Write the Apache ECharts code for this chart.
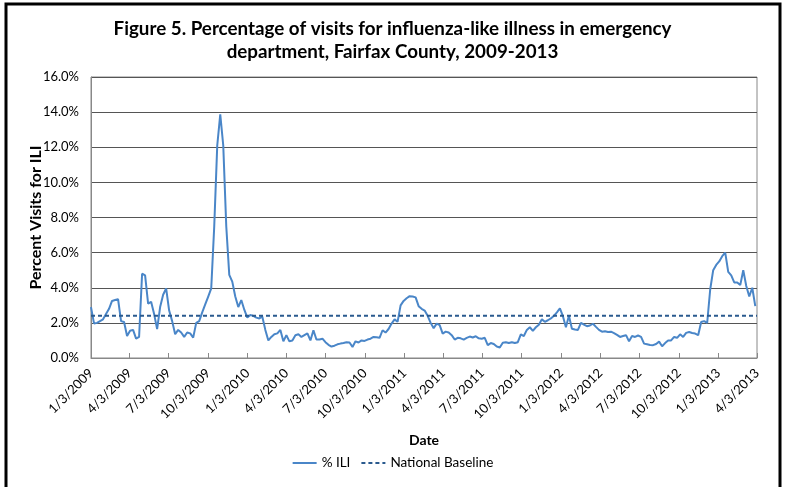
<!DOCTYPE html>
<html>
<head>
<meta charset="utf-8">
<script src="https://cdn.jsdelivr.net/npm/echarts@6/dist/echarts.min.js"></script>
<style>
html, body { margin: 0; padding: 0; background: #fff; }
#container { width: 785px; height: 487px; }
</style>
</head>
<body>
<div id="container"></div>
<script>
// weekly % ILI, weeks ending Saturday, first week ends 1/3/2009
var firstWeek = [2009, 0, 3];
var ili2009 = [2.9, 1.97, 2.0, 2.1, 2.2, 2.5, 2.8, 3.25, 3.3, 3.35, 2.1, 2.05, 1.25,
    1.55, 1.6, 1.1, 1.2, 4.8, 4.7, 3.1, 3.2, 2.5, 1.65, 2.9, 3.6, 3.96,
    2.7, 2.1, 1.35, 1.6, 1.45, 1.2, 1.45, 1.4, 1.16, 2.0, 2.1, 2.6, 3.05,
    3.5, 3.96, 7.5, 12.1, 13.87, 12.1, 7.5, 4.73, 4.35, 3.5, 2.9, 3.3, 2.75];
var ili2010 = [2.3, 2.45, 2.4, 2.3, 2.25, 2.35, 1.6, 1.0, 1.2, 1.35, 1.4, 1.6, 0.95,
    1.3, 0.95, 1.0, 1.3, 1.35, 1.2, 1.3, 1.4, 1.0, 1.58, 1.05, 1.05, 1.1,
    0.9, 0.75, 0.65, 0.7, 0.78, 0.82, 0.85, 0.9, 0.88, 0.63, 0.95, 0.88, 1.0,
    0.97, 1.05, 1.1, 1.2, 1.18, 1.15, 1.58, 1.45, 1.65, 1.96, 2.2, 2.06, 3.0];
var ili2011 = [3.25, 3.4, 3.52, 3.5, 3.45, 2.95, 2.8, 2.7, 2.4, 2.0, 1.7, 1.96, 1.87,
    1.39, 1.5, 1.45, 1.3, 1.05, 1.15, 1.12, 1.05, 1.15, 1.22, 1.17, 1.24, 1.12,
    1.1, 1.15, 0.73, 0.85, 0.8, 0.65, 0.6, 0.87, 0.9, 0.85, 0.9, 0.85, 0.9,
    1.35, 1.25, 1.6, 1.75, 1.55, 1.75, 1.9, 2.2, 2.06, 2.15, 2.25, 2.4, 2.6];
var ili2012 = [2.82, 2.38, 1.75, 2.4, 1.66, 1.62, 1.6, 2.0, 1.9, 1.81, 1.85, 1.95, 1.77,
    1.6, 1.5, 1.52, 1.48, 1.5, 1.42, 1.32, 1.2, 1.25, 1.3, 0.95, 1.25, 1.2,
    1.28, 1.2, 0.82, 0.78, 0.74, 0.73, 0.8, 0.93, 0.67, 0.85, 1.0, 1.0, 1.2,
    1.15, 1.35, 1.2, 1.43, 1.48, 1.42, 1.39, 1.3, 2.05, 2.1, 2.0, 3.9, 5.0];
var ili2013 = [5.3, 5.5, 5.8, 6.0, 4.9, 4.7, 4.3, 4.3, 4.15, 5.0, 4.1, 3.5, 4.0, 2.95];

var baselineValue = 2.4;
var axisStart = '2009-01-03';
var axisEnd = '2013-04-03';
var tickDates = ['2009-01-03', '2009-04-03', '2009-07-03', '2009-10-03',
    '2010-01-03', '2010-04-03', '2010-07-03', '2010-10-03',
    '2011-01-03', '2011-04-03', '2011-07-03', '2011-10-03',
    '2012-01-03', '2012-04-03', '2012-07-03', '2012-10-03',
    '2013-01-03', '2013-04-03'];

function toTime(s) {
    var p = s.split('-');
    return new Date(+p[0], +p[1] - 1, +p[2]).getTime();
}

var iliValues = ili2009.concat(ili2010, ili2011, ili2012, ili2013);
var iliData = [];
for (var i = 0; i < iliValues.length; i++) {
    var d = new Date(firstWeek[0], firstWeek[1], firstWeek[2] + 7 * i);
    iliData.push([d.getTime(), iliValues[i]]);
}
var baselineData = [[toTime(axisStart), baselineValue], [toTime(axisEnd), baselineValue]];
var tickTimes = tickDates.map(toTime);

var font = 'Lato, "Open Sans", sans-serif';
var myChart = echarts.init(document.getElementById('container'));

var option = {
    animation: false,
    title: {
        text: 'Figure 5. Percentage of visits for influenza-like illness in emergency\ndepartment, Fairfax County, 2009-2013',
        left: 'center',
        top: 12,
        textStyle: { fontFamily: font, fontSize: 18.8, fontWeight: 'bold', color: '#000', lineHeight: 23 }
    },
    legend: {
        bottom: 12,
        left: 'center',
        itemWidth: 24,
        itemHeight: 10,
        itemGap: 10,
        itemStyle: { opacity: 0 },
        textStyle: { fontFamily: font, fontSize: 13.5, color: '#000' },
        data: ['% ILI', 'National Baseline']
    },
    grid: {
        left: 91,
        right: 28,
        top: 77,
        bottom: 129,
        show: true,
        borderColor: '#888',
        borderWidth: 1
    },
    xAxis: {
        type: 'value',
        min: toTime(axisStart),
        max: toTime(axisEnd),
        name: 'Date',
        nameLocation: 'middle',
        nameGap: 75,
        nameMoveOverlap: false,
        nameTextStyle: { fontFamily: font, fontSize: 14, fontWeight: 'bold', color: '#000' },
        axisLine: { lineStyle: { color: '#888' } },
        axisTick: { show: true, inside: true, length: 5, lineStyle: { color: '#888' }, customValues: tickTimes },
        axisLabel: {
            rotate: 45,
            fontFamily: font,
            fontSize: 13,
            color: '#000',
            margin: 13,
            customValues: tickTimes,
            formatter: function (v) {
                var d = new Date(v);
                return (d.getMonth() + 1) + '/' + d.getDate() + '/' + d.getFullYear();
            }
        },
        splitLine: { show: false }
    },
    yAxis: {
        type: 'value',
        min: 0,
        max: 16,
        interval: 2,
        name: 'Percent Visits for ILI',
        nameLocation: 'middle',
        nameGap: 47,
        nameMoveOverlap: false,
        nameTextStyle: { fontFamily: font, fontSize: 16, fontWeight: 'bold', color: '#000' },
        axisLine: { show: true, lineStyle: { color: '#888' } },
        axisTick: { show: false },
        axisLabel: {
            fontFamily: font,
            fontSize: 13,
            color: '#000',
            margin: 12,
            formatter: function (v) { return v.toFixed(1) + '%'; }
        },
        splitLine: { lineStyle: { color: '#555', width: 1 } }
    },
    series: [
        {
            name: '% ILI',
            type: 'line',
            data: iliData,
            showSymbol: false,
            symbol: 'none',
            color: '#4a86c8',
            lineStyle: { width: 2, color: '#4a86c8' }
        },
        {
            name: 'National Baseline',
            type: 'line',
            data: baselineData,
            showSymbol: false,
            symbol: 'none',
            color: '#2a5a8e',
            lineStyle: { width: 2, type: [4, 3], color: '#2a5a8e' }
        }
    ],
    graphic: [{
        type: 'rect',
        shape: { x: 6, y: 4, width: 774, height: 495 },
        style: { fill: null, stroke: '#000', lineWidth: 3 },
        silent: true
    }]
};

myChart.setOption(option);
</script>
</body>
</html>
